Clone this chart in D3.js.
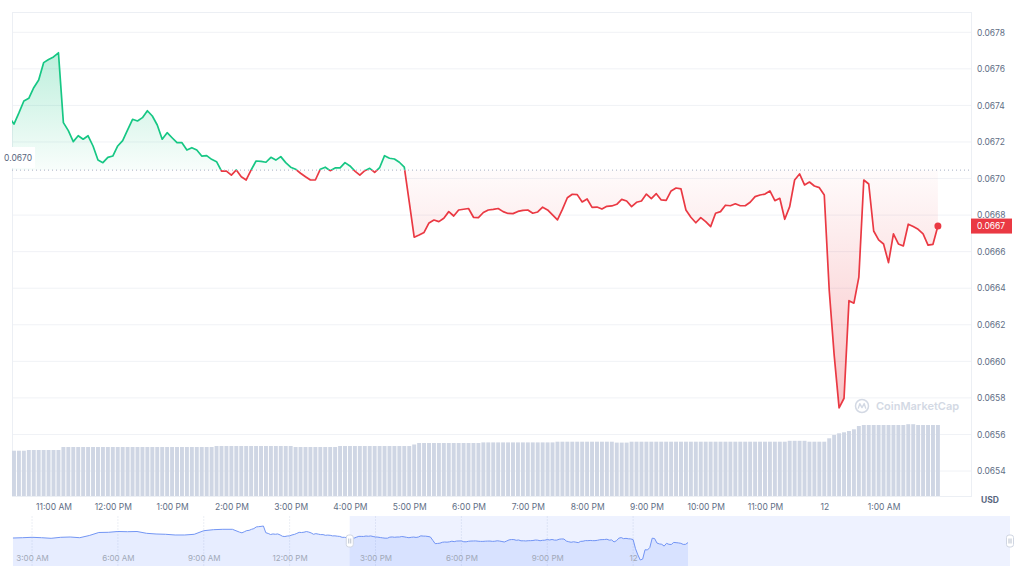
<!DOCTYPE html>
<html>
<head>
<meta charset="utf-8">
<script src="https://cdn.jsdelivr.net/npm/d3@7"></script>
<style>
  html, body { margin: 0; padding: 0; background: #fff; }
  svg { display: block; font-family: Inter, "Noto Sans", sans-serif; }
</style>
</head>
<body>
<svg id="chart" width="1024" height="578"></svg>
<script>
// ---- data (5 minute candles, first one at 10:15 AM) ----
const mainStart = "2023-05-11 10:15:00";
const stepMinutes = 5;
const prices = [
  0.067337, 0.067298, 0.067359, 0.067424, 0.067439, 0.067497, 0.067539, 0.067634, 0.067651, 0.067665,
  0.067688, 0.067306, 0.067262, 0.067202, 0.067234, 0.067215, 0.067234, 0.067178, 0.067101, 0.067087,
  0.067116, 0.067123, 0.067178, 0.067207, 0.067266, 0.067324, 0.067315, 0.067333, 0.067371, 0.067342,
  0.067293, 0.067215, 0.067251, 0.067223, 0.067196, 0.067196, 0.067156, 0.067169, 0.067156, 0.067123,
  0.067125, 0.067105, 0.067092, 0.067041, 0.067041, 0.067019, 0.067047, 0.067010, 0.066992, 0.067047,
  0.067096, 0.067094, 0.067089, 0.067116, 0.067101, 0.067120, 0.067087, 0.067062, 0.067051, 0.067029,
  0.067010, 0.066992, 0.066992, 0.067051, 0.067062, 0.067043, 0.067058, 0.067058, 0.067087, 0.067069,
  0.067041, 0.067019, 0.067043, 0.067056, 0.067034, 0.067059, 0.067125, 0.067111, 0.067107, 0.067089,
  0.067062, 0.066872, 0.066679, 0.066691, 0.066705, 0.066757, 0.066773, 0.066764, 0.066783, 0.066819,
  0.066795, 0.066828, 0.066832, 0.066836, 0.066788, 0.066786, 0.066814, 0.066828, 0.066831, 0.066836,
  0.066819, 0.066809, 0.066808, 0.066820, 0.066826, 0.066828, 0.066810, 0.066817, 0.066843, 0.066828,
  0.066801, 0.066774, 0.066831, 0.066895, 0.066914, 0.066912, 0.066872, 0.066888, 0.066842, 0.066844,
  0.066833, 0.066848, 0.066850, 0.066859, 0.066886, 0.066877, 0.066846, 0.066870, 0.066877, 0.066915,
  0.066890, 0.066917, 0.066883, 0.066881, 0.066932, 0.066948, 0.066943, 0.066828, 0.066788, 0.066758,
  0.066786, 0.066764, 0.066737, 0.066810, 0.066819, 0.066854, 0.066851, 0.066862, 0.066851, 0.066851,
  0.066870, 0.066901, 0.066910, 0.066915, 0.066932, 0.066879, 0.066892, 0.066777, 0.066846, 0.066992,
  0.067025, 0.066965, 0.066981, 0.066959, 0.066950, 0.066910, 0.066390, 0.066035, 0.065745, 0.065798,
  0.066332, 0.066318, 0.066461, 0.066992, 0.066970, 0.066713, 0.066664, 0.066642, 0.066540, 0.066697,
  0.066642, 0.066631, 0.066750, 0.066737, 0.066722, 0.066697, 0.066636, 0.066640, 0.066740
];
// 24h volume, millions USD
const volumes = [
  45.3, 45.3, 45.3, 45.3, 46.0, 46.0, 46.0, 46.0, 46.0, 46.0,
  46.0, 49.0, 49.0, 49.0, 49.0, 49.0, 49.0, 49.0, 49.0, 49.0,
  49.0, 49.0, 49.0, 49.0, 49.0, 49.0, 49.0, 49.0, 49.0, 49.0,
  49.0, 49.0, 49.0, 49.0, 49.0, 49.0, 49.0, 49.0, 49.0, 49.0,
  49.0, 49.0, 50.0, 50.0, 50.0, 50.0, 50.0, 50.0, 50.0, 50.0,
  50.0, 50.0, 50.0, 50.0, 50.0, 50.0, 50.0, 50.0, 49.0, 49.0,
  49.0, 49.0, 49.0, 49.0, 49.0, 49.0, 49.0, 50.0, 50.0, 50.0,
  50.0, 50.0, 50.0, 50.0, 50.0, 50.0, 50.0, 50.0, 50.0, 50.0,
  50.0, 50.0, 51.5, 53.0, 53.0, 53.0, 53.0, 53.0, 53.0, 53.0,
  53.0, 53.0, 53.0, 53.0, 53.0, 53.0, 53.6, 53.6, 53.6, 53.6,
  53.6, 53.6, 53.6, 53.6, 53.6, 53.6, 53.6, 53.6, 53.6, 53.6,
  53.6, 54.3, 54.3, 54.3, 54.3, 54.3, 54.3, 54.3, 54.3, 54.3,
  54.3, 54.3, 54.3, 53.4, 53.4, 53.4, 54.3, 54.3, 54.3, 54.3,
  54.3, 54.3, 54.3, 54.3, 54.3, 54.3, 54.3, 54.3, 54.3, 54.3,
  54.3, 54.3, 54.3, 54.3, 54.3, 54.3, 54.3, 54.3, 54.3, 54.3,
  54.3, 54.3, 54.3, 54.3, 54.3, 54.3, 54.3, 54.3, 55.2, 55.2,
  55.2, 55.2, 54.3, 54.3, 54.3, 54.3, 57.7, 61.0, 62.7, 63.7,
  65.0, 66.7, 70.0, 71.0, 71.0, 71.0, 71.0, 71.0, 71.0, 71.0,
  71.0, 71.0, 71.8, 71.8, 71.0, 71.0, 71.0, 71.0, 71.0
];
const baselinePrice = 0.067046;   // open of the 24h window
const priceTicks = [0.0654, 0.0656, 0.0658, 0.0660, 0.0662, 0.0664, 0.0666, 0.0668, 0.0670, 0.0672, 0.0674, 0.0676, 0.0678];
const xTickTimes = ["2023-05-11 11:00", "2023-05-11 12:00", "2023-05-11 13:00", "2023-05-11 14:00", "2023-05-11 15:00",
  "2023-05-11 16:00", "2023-05-11 17:00", "2023-05-11 18:00", "2023-05-11 19:00", "2023-05-11 20:00",
  "2023-05-11 21:00", "2023-05-11 22:00", "2023-05-11 23:00", "2023-05-12 00:00", "2023-05-12 01:00"];
const xTickLabels = ["11:00 AM", "12:00 PM", "1:00 PM", "2:00 PM", "3:00 PM", "4:00 PM", "5:00 PM", "6:00 PM",
  "7:00 PM", "8:00 PM", "9:00 PM", "10:00 PM", "11:00 PM", "12", "1:00 AM"];

// navigator: earlier part of the day, 20 minute points from 2:20 AM
const navEarlyStart = "2023-05-11 02:20:00";
const navEarlyStep = 20;
const navEarlyPrices = [
  0.067002, 0.067019, 0.067042, 0.067019, 0.066985, 0.067042, 0.067059, 0.067019, 0.067145, 0.067317,
  0.067328, 0.067374, 0.067362, 0.067374, 0.067271, 0.067231, 0.067214, 0.067174, 0.067174, 0.067214,
  0.067419, 0.067477, 0.067499, 0.067499
];
const navTickTimes = ["2023-05-11 03:00", "2023-05-11 06:00", "2023-05-11 09:00", "2023-05-11 12:00",
  "2023-05-11 15:00", "2023-05-11 18:00", "2023-05-11 21:00", "2023-05-12 00:00"];
const navTickLabels = ["3:00 AM", "6:00 AM", "9:00 AM", "12:00 PM", "3:00 PM", "6:00 PM", "9:00 PM", "12"];
const navSelection = ["2023-05-11 14:06:00", "2023-05-12 13:10:00"];

const GREEN = "#16c784", RED = "#ea3943";
const parseS = d3.timeParse("%Y-%m-%d %H:%M:%S");
const parseM = d3.timeParse("%Y-%m-%d %H:%M");

const svg = d3.select("#chart");

const plot = { left: 12, top: 12, right: 971, bottom: 496 };

const data = prices.map((p, i) => ({
  t: d3.timeMinute.offset(parseS(mainStart), i * stepMinutes),
  p: p,
  v: volumes[i]
}));
const last = data[data.length - 1];

const x = d3.scaleTime()
  .domain([parseS("2023-05-11 10:18:00"), parseS("2023-05-12 02:29:30")])
  .range([plot.left, plot.right + 1]);
const y = d3.scaleLinear()
  .domain([0.0654, 0.0678])
  .range([471, 32.3]);
const yVol = d3.scaleLinear()
  .domain([0, 100])
  .range([plot.bottom, plot.bottom - 100]);

const yBase = y(baselinePrice);

const defs = svg.append("defs");
defs.append("clipPath").attr("id", "clip-plot").append("rect")
  .attr("x", plot.left).attr("y", plot.top)
  .attr("width", plot.right - plot.left).attr("height", plot.bottom - plot.top);
defs.append("clipPath").attr("id", "clip-above").append("rect")
  .attr("x", plot.left).attr("y", plot.top)
  .attr("width", plot.right - plot.left).attr("height", yBase - plot.top);
defs.append("clipPath").attr("id", "clip-below").append("rect")
  .attr("x", plot.left).attr("y", yBase)
  .attr("width", plot.right - plot.left).attr("height", plot.bottom - yBase);

const gGreen = defs.append("linearGradient").attr("id", "grad-green")
  .attr("gradientUnits", "userSpaceOnUse")
  .attr("x1", 0).attr("x2", 0).attr("y1", y(d3.max(prices))).attr("y2", yBase);
gGreen.append("stop").attr("offset", 0).attr("stop-color", GREEN).attr("stop-opacity", 0.28);
gGreen.append("stop").attr("offset", 1).attr("stop-color", GREEN).attr("stop-opacity", 0.03);
const gRed = defs.append("linearGradient").attr("id", "grad-red")
  .attr("gradientUnits", "userSpaceOnUse")
  .attr("x1", 0).attr("x2", 0).attr("y1", yBase).attr("y2", y(d3.min(prices)));
gRed.append("stop").attr("offset", 0).attr("stop-color", RED).attr("stop-opacity", 0.02);
gRed.append("stop").attr("offset", 1).attr("stop-color", RED).attr("stop-opacity", 0.3);

// grid + frame
svg.append("g").selectAll("line").data(priceTicks).enter().append("line")
  .attr("x1", plot.left).attr("x2", plot.right)
  .attr("y1", d => y(d)).attr("y2", d => y(d))
  .attr("stroke", "#f0f2f6").attr("stroke-width", 1);
svg.append("rect")
  .attr("x", plot.left + 0.5).attr("y", plot.top + 0.5)
  .attr("width", plot.right - plot.left).attr("height", plot.bottom - plot.top)
  .attr("fill", "none").attr("stroke", "#eceff4");

const gPlot = svg.append("g").attr("clip-path", "url(#clip-plot)");

// volume bars
const barW = (x(d3.timeMinute.offset(data[0].t, stepMinutes)) - x(data[0].t)) - 1;
gPlot.append("g").selectAll("rect").data(data).enter().append("rect")
  .attr("x", d => x(d.t) - barW / 2)
  .attr("y", d => yVol(d.v))
  .attr("width", barW)
  .attr("height", d => plot.bottom - yVol(d.v))
  .attr("fill", "#cfd6e4");

// area fills
const area = d3.area().x(d => x(d.t)).y0(yBase).y1(d => y(d.p));
gPlot.append("g").attr("clip-path", "url(#clip-above)")
  .append("path").datum(data).attr("d", area).attr("fill", "url(#grad-green)");
gPlot.append("g").attr("clip-path", "url(#clip-below)")
  .append("path").datum(data).attr("d", area).attr("fill", "url(#grad-red)");

// baseline
svg.append("line")
  .attr("x1", plot.left).attr("x2", plot.right)
  .attr("y1", yBase).attr("y2", yBase)
  .attr("stroke", "#a6b0c3").attr("stroke-width", 1)
  .attr("stroke-dasharray", "1,3");

// price line, green above open, red below
const line = d3.line().x(d => x(d.t)).y(d => y(d.p));
gPlot.append("g").attr("clip-path", "url(#clip-above)")
  .append("path").datum(data).attr("d", line)
  .attr("fill", "none").attr("stroke", GREEN).attr("stroke-width", 1.7)
  .attr("stroke-linejoin", "round");
gPlot.append("g").attr("clip-path", "url(#clip-below)")
  .append("path").datum(data).attr("d", line)
  .attr("fill", "none").attr("stroke", RED).attr("stroke-width", 1.7)
  .attr("stroke-linejoin", "round");

svg.append("circle")
  .attr("cx", x(last.t)).attr("cy", y(last.p)).attr("r", 3.5)
  .attr("fill", RED);

// open price label on the left
svg.append("rect").attr("x", 0).attr("y", 147).attr("width", 35).attr("height", 21).attr("fill", "#fff");
svg.append("text").attr("x", 4).attr("y", 158).attr("dy", "0.35em")
  .attr("font-size", 8.5).attr("fill", "#58667e")
  .text(d3.format(".4f")(baselinePrice));

// watermark
const wm = svg.append("g").attr("transform", "translate(862,406)");
wm.append("circle").attr("r", 6.5).attr("fill", "none").attr("stroke", "#d3d9e4").attr("stroke-width", 1.5);
wm.append("path").attr("d", "M-3.8,2.6 L-2.2,-2.4 L0,1.6 L2.2,-2.4 L3.8,2.6")
  .attr("fill", "none").attr("stroke", "#d3d9e4").attr("stroke-width", 1.4).attr("stroke-linejoin", "round");
svg.append("text").attr("x", 876).attr("y", 406).attr("dy", "0.35em")
  .attr("font-size", 11).attr("font-weight", 600).attr("fill", "#d3d9e4")
  .text("CoinMarketCap");

// y axis on the right
const yAxis = svg.append("g")
  .attr("transform", `translate(${plot.right},0)`)
  .call(d3.axisRight(y).tickValues(priceTicks).tickFormat(d3.format(".4f")).tickSize(0).tickPadding(6));
yAxis.select(".domain").remove();
yAxis.selectAll("text").attr("font-size", 8.5).attr("fill", "#616e85").attr("font-family", "Inter, sans-serif");

svg.append("text").attr("x", 990).attr("y", 500).attr("dy", "0.35em")
  .attr("text-anchor", "middle").attr("font-size", 8.5).attr("font-weight", 700)
  .attr("fill", "#58667e").text("USD");

// current price tag
svg.append("rect")
  .attr("x", plot.right).attr("y", y(last.p) - 7.5)
  .attr("width", 41).attr("height", 15).attr("fill", RED);
svg.append("text").attr("x", plot.right + 6).attr("y", y(last.p)).attr("dy", "0.35em")
  .attr("font-size", 8.5).attr("fill", "#fff")
  .text(d3.format(".4f")(last.p));

// x axis
const xTicks = xTickTimes.map(parseM);
const xAxis = svg.append("g")
  .attr("transform", `translate(0,${plot.bottom})`)
  .call(d3.axisBottom(x).tickValues(xTicks).tickFormat((d, i) => xTickLabels[i]).tickSize(0).tickPadding(8));
xAxis.select(".domain").remove();
xAxis.selectAll("text").attr("font-size", 8.5).attr("fill", "#616e85").attr("font-family", "Inter, sans-serif");

// ---- navigator ----
const nav = { left: 12, right: 1010, top: 516, bottom: 566 };
const navData = navEarlyPrices.map((p, i) => ({
  t: d3.timeMinute.offset(parseS(navEarlyStart), i * navEarlyStep), p: p
})).concat(data.map(d => ({ t: d.t, p: d.p })));

const xNav = d3.scaleTime()
  .domain([parseS("2023-05-11 02:18:00"), parseS("2023-05-12 13:10:00")])
  .range([nav.left, nav.right]);
const yNav = d3.scaleLinear()
  .domain([d3.min(prices), d3.max(prices)])
  .range([560, 526]);

const navTicks = navTickTimes.map(parseM);
svg.append("g").selectAll("line").data(navTicks).enter().append("line")
  .attr("x1", d => xNav(d)).attr("x2", d => xNav(d))
  .attr("y1", nav.top).attr("y2", nav.bottom)
  .attr("stroke", "#eceff5").attr("stroke-dasharray", "2,1");

svg.append("path").datum(navData)
  .attr("d", d3.area().x(d => xNav(d.t)).y0(nav.bottom).y1(d => yNav(d.p)))
  .attr("fill", "rgba(97,136,255,0.15)");
svg.append("path").datum(navData)
  .attr("d", d3.line().x(d => xNav(d.t)).y(d => yNav(d.p)))
  .attr("fill", "none").attr("stroke", "#7396f4").attr("stroke-width", 1);

const selX0 = xNav(parseS(navSelection[0])), selX1 = xNav(parseS(navSelection[1]));
svg.append("rect")
  .attr("x", selX0).attr("y", nav.top)
  .attr("width", selX1 - selX0).attr("height", nav.bottom - nav.top)
  .attr("fill", "rgba(97,136,255,0.11)");

const navAxis = svg.append("g")
  .attr("transform", `translate(0,${nav.top + 34})`)
  .call(d3.axisBottom(xNav).tickValues(navTicks).tickFormat((d, i) => navTickLabels[i]).tickSize(0).tickPadding(5));
navAxis.select(".domain").remove();
navAxis.selectAll("text").attr("font-size", 8).attr("fill", "#a1a9b8").attr("font-family", "Inter, sans-serif");

[selX0, selX1].forEach(hx => {
  const h = svg.append("g").attr("transform", `translate(${hx},541)`);
  h.append("rect").attr("x", -3.5).attr("y", -6).attr("width", 7).attr("height", 12).attr("rx", 2.5)
    .attr("fill", "#fff").attr("stroke", "#d0d6e2");
  h.append("line").attr("x1", -1).attr("x2", -1).attr("y1", -2.5).attr("y2", 2.5).attr("stroke", "#b8c0cd");
  h.append("line").attr("x1", 1).attr("x2", 1).attr("y1", -2.5).attr("y2", 2.5).attr("stroke", "#b8c0cd");
});
</script>
</body>
</html>
